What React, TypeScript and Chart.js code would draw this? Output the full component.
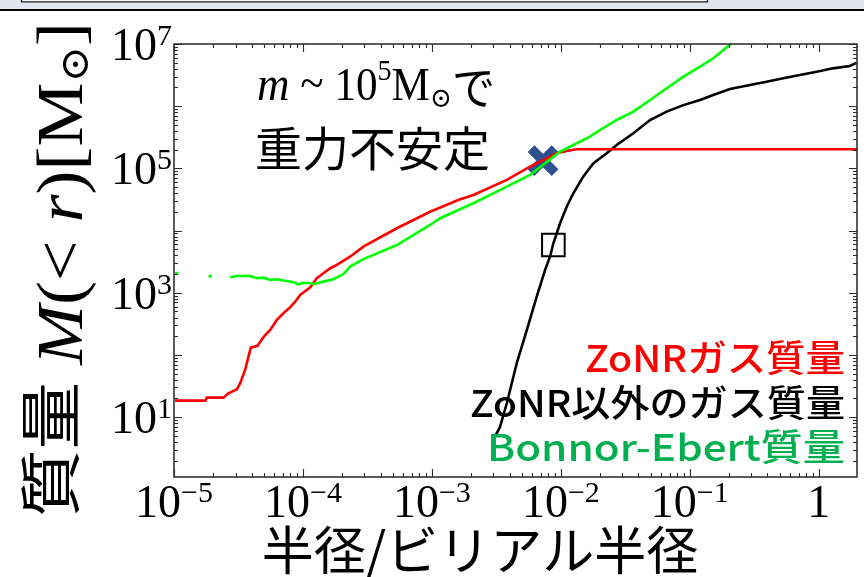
import React, { useEffect, useRef } from "react";
import { Chart, registerables } from "chart.js";

Chart.register(...registerables);

const SERIF = '"Liberation Serif", "DejaVu Serif", serif';
const CJK = '"Noto Sans CJK JP", "Noto Sans", sans-serif';

// Radius in units of the virial radius, enclosed mass in solar masses.
const zonrRadius = [1.02e-5, 1.75e-5, 1.8e-5, 2.42e-5, 2.64e-5, 3.08e-5, 3.26e-5, 3.56e-5, 3.78e-5, 3.94e-5, 4.44e-5, 4.94e-5, 5.57e-5, 6.28e-5, 7.06e-5, 7.96e-5, 8.71e-5, 9.51e-5, 1.14e-4, 1.28e-4, 1.44e-4, 1.63e-4, 1.83e-4, 2.32e-4, 2.94e-4, 5.35e-4, 9.68e-4, 1.6e-3, 2.1e-3, 3.81e-3, 5.77e-3, 7.78e-3, 9.29e-3, 1.11e-2, 1.33e-2, 1.98];
const zonrMass = [18.4, 18.4, 20.6, 20.6, 24.2, 28.1, 35.1, 57.4, 94, 131, 140, 193, 252, 366, 468, 585, 719, 923, 1225, 1710, 2060, 2480, 2800, 3800, 5510, 10900, 20100, 31000, 37300, 65200, 106400, 145200, 175000, 190500, 202800, 202800];

const outerRadius = [3.09e-3, 3.38e-3, 3.81e-3, 4.55e-3, 5.45e-3, 6.5e-3, 7.55e-3, 8.24e-3, 8.75e-3, 9.86e-3, 1.11e-2, 1.25e-2, 1.49e-2, 1.79e-2, 2.27e-2, 2.71e-2, 3.65e-2, 4.92e-2, 6.62e-2, 8.91e-2, 0.12, 0.152, 0.205, 0.293, 0.394, 0.531, 0.714, 0.964, 1.29, 1.74, 1.97];
const outerMass = [4.86, 7.03, 16.7, 73.6, 252, 865, 2330, 3800, 6250, 13100, 24200, 39800, 73600, 120800, 175000, 237700, 366400, 600000, 816600, 1.04e6, 1.26e6, 1.51e6, 1.89e6, 2.19e6, 2.48e6, 2.81e6, 3.18e6, 3.59e6, 4.06e6, 4.43e6, 5.0e6];

// null entries leave gaps in the Bonnor-Ebert curve
const beRadius = [1.05e-5, 1.4e-5, 1.91e-5, 2.3e-5, 2.73e-5, 3.08e-5, 3.9e-5, 4.4e-5, 4.94e-5, 5.57e-5, 6.28e-5, 7.06e-5, 8.43e-5, 9.23e-5, 1.01e-4, 1.14e-4, 1.21e-4, 1.44e-4, 1.72e-4, 2.06e-4, 2.32e-4, 2.94e-4, 5.35e-4, 9.68e-4, 1.16e-3, 1.6e-3, 2.1e-3, 3.81e-3, 5.77e-3, 9.86e-3, 1.25e-2, 1.68e-2, 2.01e-2, 2.71e-2, 3.65e-2, 4.92e-2, 6.62e-2, 8.91e-2, 0.12, 0.152, 0.182, 0.211];
const beMass: (number | null)[] = [2060, null, 1840, null, 1770, 1860, 1860, 1710, 1750, 1610, 1650, 1570, 1480, 1370, 1450, 1420, 1370, 1510, 1650, 2000, 2630, 3470, 5860, 12300, 15800, 21400, 27500, 50800, 78300, 185400, 237700, 323600, 414000, 600000, 816600, 1.26e6, 1.94e6, 2.98e6, 4.32e6, 5.89e6, 8.02e6, 1.03e7];

const instabilityRadius = [7.28e-3];
const instabilityMass = [1.33e5];
const squareRadius = [8.75e-3];
const squareMass = [5870];

const xTickValues = [1e-5, 1e-4, 1e-3, 1e-2, 1e-1, 1];
const xTickBases = ["10", "10", "10", "10", "10", "1"];
const xTickExps = ["\u22125", "\u22124", "\u22123", "\u22122", "\u22121", ""];
const yTickValues = [1e1, 1e3, 1e5, 1e7];
const yTickExps = ["1", "3", "5", "7"];

const legendLabels = ["ZoNRガス質量", "ZoNR以外のガス質量", "Bonnor-Ebert質量"];
const legendColors = ["#ff0000", "#000000", "#00b050"];
const xTitle = "半径/ビリアル半径";
const noteLine2 = "重力不安定";

type Run = { t: string; font: string; dy?: number };

function drawRuns(ctx: CanvasRenderingContext2D, runs: Run[], x: number, y: number) {
  let cx = x;
  for (const r of runs) {
    ctx.font = r.font;
    ctx.fillText(r.t, cx, y + (r.dy || 0));
    cx += ctx.measureText(r.t).width;
  }
  return cx - x;
}

function runsWidth(ctx: CanvasRenderingContext2D, runs: Run[]) {
  let w = 0;
  for (const r of runs) {
    ctx.font = r.font;
    w += ctx.measureText(r.t).width;
  }
  return w;
}

const decor = {
  id: "decor",
  beforeDraw(chart: any) {
    const { ctx, width, height } = chart;
    ctx.save();
    ctx.fillStyle = "#ffffff";
    ctx.fillRect(0, 0, width, height);
    // slide header strip
    ctx.fillStyle = "#dfe6ee";
    ctx.fillRect(0, 0, width, 9);
    ctx.fillStyle = "#f6f6f6";
    ctx.fillRect(22, 0, 685, 1);
    ctx.strokeStyle = "#222";
    ctx.lineWidth = 1.3;
    ctx.beginPath();
    ctx.moveTo(21.5, 0);
    ctx.lineTo(21.5, 1.8);
    ctx.lineTo(707.5, 1.8);
    ctx.lineTo(707.5, 0);
    ctx.stroke();
    ctx.fillStyle = "#000";
    ctx.fillRect(0, 9, width, 2);
    ctx.restore();
  },
  afterDraw(chart: any) {
    const { ctx, chartArea: a, scales } = chart;
    const xs = scales.x;
    const ys = scales.y;
    ctx.save();

    // inward tick marks on all four sides
    ctx.strokeStyle = "#2a2a2a";
    ctx.lineWidth = 1.1;
    ctx.beginPath();
    for (let d = -5; d <= 0; d++) {
      for (let m = 1; m <= 9; m++) {
        const v = m * Math.pow(10, d);
        if (v < xs.min * 0.999 || v > xs.max) continue;
        const px = Math.round(xs.getPixelForValue(v)) + 0.5;
        const len = m === 1 ? 8 : 4;
        ctx.moveTo(px, a.bottom);
        ctx.lineTo(px, a.bottom - len);
        ctx.moveTo(px, a.top);
        ctx.lineTo(px, a.top + len);
      }
    }
    for (let d = 0; d <= 7; d++) {
      for (let m = 1; m <= 9; m++) {
        const v = m * Math.pow(10, d);
        if (v < ys.min || v > ys.max * 1.001) continue;
        const py = Math.round(ys.getPixelForValue(v)) + 0.5;
        const len = m === 1 ? 8 : 4;
        ctx.moveTo(a.left, py);
        ctx.lineTo(a.left + len, py);
        ctx.moveTo(a.right, py);
        ctx.lineTo(a.right - len, py);
      }
    }
    ctx.stroke();
    ctx.lineWidth = 1.6;
    ctx.strokeStyle = "#333";
    ctx.strokeRect(a.left, a.top, a.right - a.left, a.bottom - a.top);

    // tick labels
    ctx.fillStyle = "#000";
    ctx.textAlign = "left";
    ctx.textBaseline = "alphabetic";
    const baseFont = `46px ${SERIF}`;
    const supFont = `30px ${SERIF}`;
    xTickValues.forEach((v, i) => {
      const px = xs.getPixelForValue(v);
      ctx.font = baseFont;
      const bw = ctx.measureText(xTickBases[i]).width;
      ctx.font = supFont;
      const ew = xTickExps[i] ? ctx.measureText(xTickExps[i]).width : 0;
      const x0 = px - (bw + ew) / 2;
      ctx.font = baseFont;
      ctx.fillText(xTickBases[i], x0, 517);
      if (xTickExps[i]) {
        ctx.font = supFont;
        ctx.fillText(xTickExps[i], x0 + bw, 502);
      }
    });
    yTickValues.forEach((v, i) => {
      const py = ys.getPixelForValue(v);
      ctx.font = supFont;
      const ew = ctx.measureText(yTickExps[i]).width;
      ctx.font = baseFont;
      const bw = ctx.measureText("10").width;
      const x0 = 172 - ew - bw;
      ctx.fillText("10", x0, py + 16);
      ctx.font = supFont;
      ctx.fillText(yTickExps[i], x0 + bw, py + 1);
    });

    // note: m ~ 10^5 M_sun gravitationally unstable
    const line1: Run[] = [
      { t: "m", font: `italic 48px ${SERIF}` },
      { t: " ~ ", font: `46px ${SERIF}`, dy: -2 },
      { t: "10", font: `46px ${SERIF}` },
      { t: "5", font: `30px ${SERIF}`, dy: -20 },
      { t: "M", font: `46px ${SERIF}` },
      { t: "\u2299", font: `28px ${SERIF}`, dy: 7 },
      { t: "で", font: `46px ${CJK}`, dy: 4 },
    ];
    const w1 = runsWidth(ctx, line1);
    ctx.save();
    ctx.translate(257, 100);
    ctx.scale(238 / w1, 1);
    drawRuns(ctx, line1, 0, 0);
    ctx.restore();
    ctx.font = `47px ${CJK}`;
    ctx.textBaseline = "middle";
    ctx.fillText(noteLine2, 255, 148);

    // series labels, right-aligned
    ctx.textAlign = "left";
    ctx.font = `500 37px ${CJK}`;
    const legendY = [358, 403, 447];
    const legendLeft = [585, 470, 487];
    legendLabels.forEach((t, i) => {
      const w = ctx.measureText(t).width;
      ctx.save();
      ctx.translate(legendLeft[i], legendY[i]);
      ctx.scale((845 - legendLeft[i]) / w, 1);
      ctx.fillStyle = legendColors[i];
      ctx.fillText(t, 0, 0);
      ctx.restore();
    });

    // x-axis title
    ctx.fillStyle = "#000";
    ctx.textAlign = "center";
    ctx.font = `52px ${CJK}`;
    ctx.fillText(xTitle, 480, 550);

    // y-axis title, rotated
    ctx.textAlign = "left";
    ctx.textBaseline = "alphabetic";
    const yRuns: Run[] = [
      { t: "質量", font: `62px ${CJK}`, dy: -8 },
      { t: " ", font: `62px ${SERIF}` },
      { t: "M", font: `italic 66px ${SERIF}` },
      { t: "(<", font: `66px ${SERIF}` },
      { t: " ", font: `66px ${SERIF}` },
      { t: "r", font: `italic 66px ${SERIF}` },
      { t: ")[M", font: `66px ${SERIF}` },
      { t: "\u2299", font: `40px ${SERIF}`, dy: 6 },
      { t: "]", font: `66px ${SERIF}` },
    ];
    const wy = runsWidth(ctx, yRuns);
    ctx.save();
    ctx.translate(82, 517);
    ctx.rotate(-Math.PI / 2);
    ctx.scale(495 / wy, 1);
    drawRuns(ctx, yRuns, 0, 0);
    ctx.restore();

    ctx.restore();
  },
};

export default function App() {
  const ref = useRef<HTMLCanvasElement>(null);

  useEffect(() => {
    const canvas = ref.current;
    if (!canvas) return;
    const pts = (xs: number[], ys: (number | null)[]) => xs.map((x, i) => ({ x, y: ys[i] }));
    const isolated = (c: any) => {
      const i = c.dataIndex;
      const prev = i > 0 ? beMass[i - 1] : null;
      const next = i < beMass.length - 1 ? beMass[i + 1] : null;
      return prev == null && next == null ? 1.8 : 0;
    };
    const chart = new Chart(canvas, {
      type: "scatter",
      data: {
        datasets: [
          {
            label: "Bonnor-Ebert",
            data: pts(beRadius, beMass) as any,
            showLine: true,
            spanGaps: false,
            borderColor: "#00ff00",
            backgroundColor: "#00ff00",
            borderWidth: 2.6,
            pointRadius: isolated as any,
            pointBorderWidth: 0,
          },
          {
            label: "ZoNR",
            data: pts(zonrRadius, zonrMass),
            showLine: true,
            borderColor: "#ff0000",
            borderWidth: 2.6,
            pointRadius: 0,
          },
          {
            label: "outside ZoNR",
            data: pts(outerRadius, outerMass),
            showLine: true,
            borderColor: "#000000",
            borderWidth: 2.6,
            pointRadius: 0,
          },
          {
            label: "unstable edge",
            data: pts(instabilityRadius, instabilityMass),
            pointStyle: "crossRot",
            pointRadius: 17,
            borderColor: "#2f528f",
            borderWidth: 9.5,
          },
          {
            label: "unstable",
            data: pts(instabilityRadius, instabilityMass),
            pointStyle: "crossRot",
            pointRadius: 16,
            borderColor: "#4472c4",
            borderWidth: 7,
          },
          {
            label: "square",
            data: pts(squareRadius, squareMass),
            pointStyle: "rect",
            pointRadius: 16,
            borderColor: "#000000",
            backgroundColor: "rgba(0,0,0,0)",
            borderWidth: 2,
          },
        ],
      },
      options: {
        responsive: false,
        animation: false,
        devicePixelRatio: 1,
        events: [],
        layout: { autoPadding: false, padding: { left: 174, right: 7, top: 44, bottom: 100 } },
        plugins: { legend: { display: false }, tooltip: { enabled: false } },
        scales: {
          x: { type: "logarithmic", min: 1e-5, max: 1.98, display: false },
          y: { type: "logarithmic", min: 1.09, max: 1e7, display: false },
        },
      },
      plugins: [decor],
    });
    return () => chart.destroy();
  }, []);

  return (
    <div style={{ position: "absolute", left: 0, top: 0, width: 864, height: 577 }}>
      <canvas ref={ref} width={864} height={577} style={{ display: "block", width: 864, height: 577 }} />
    </div>
  );
}
